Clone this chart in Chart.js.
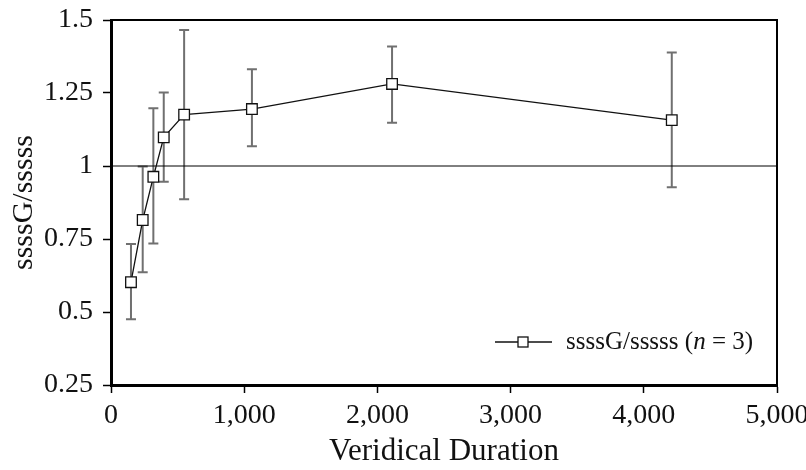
<!DOCTYPE html>
<html>
<head>
<meta charset="utf-8">
<script src="https://cdn.jsdelivr.net/npm/chart.js@4/dist/chart.umd.min.js"></script>
<style>
html,body{margin:0;padding:0;background:#fff;}
#wrap{width:806px;height:470px;position:relative;}
</style>
</head>
<body>
<div id="wrap"><canvas id="c" width="806" height="470"></canvas></div>
<script>
// ---- data ----
const durations = [150, 238, 318, 396, 549, 1058, 2110, 4210];
const ratioMeans = [0.602, 0.815, 0.963, 1.098, 1.176, 1.195, 1.281, 1.157];
const errUpper = [0.733, 0.998, 1.198, 1.252, 1.466, 1.331, 1.409, 1.389];
const errLower = [0.475, 0.636, 0.735, 0.946, 0.886, 1.068, 1.148, 0.927];
const referenceValue = 1;
const xTickLabels = ['0', '1,000', '2,000', '3,000', '4,000', '5,000'];
const yTickLabels = ['0.25', '0.5', '0.75', '1', '1.25', '1.5'];
const seriesLabel = 'ssssG/sssss';
const xTitle = 'Veridical Duration';
const yTitle = 'ssssG/sssss';

const SERIF = "'Liberation Serif', 'Times New Roman', serif";

const points = durations.map((d, i) => ({x: d, y: ratioMeans[i]}));
const refLine = [{x: 0, y: referenceValue}, {x: 5000, y: referenceValue}];

const errorBarPlugin = {
  id: 'errorBars',
  beforeDatasetsDraw(chart) {
    const {ctx, scales: {x, y}} = chart;
    ctx.save();
    ctx.strokeStyle = '#707070';
    ctx.lineWidth = 2;
    durations.forEach((d, i) => {
      const px = x.getPixelForValue(d);
      const top = y.getPixelForValue(errUpper[i]);
      const bot = y.getPixelForValue(errLower[i]);
      ctx.beginPath();
      ctx.moveTo(px, top); ctx.lineTo(px, bot);
      ctx.moveTo(px - 5, top); ctx.lineTo(px + 5, top);
      ctx.moveTo(px - 5, bot); ctx.lineTo(px + 5, bot);
      ctx.stroke();
    });
    ctx.restore();
  }
};

const framePlugin = {
  id: 'frame',
  afterDraw(chart) {
    const {ctx, chartArea: a} = chart;
    ctx.save();
    ctx.strokeStyle = '#000';
    ctx.lineWidth = 2;
    ctx.beginPath();
    ctx.moveTo(a.left, a.top); ctx.lineTo(a.right, a.top); ctx.lineTo(a.right, a.bottom);
    ctx.stroke();
    // legend inside plot area
    const ly = 342, lx0 = 495, lx1 = 552, lm = 523;
    ctx.strokeStyle = '#111';
    ctx.lineWidth = 1.3;
    ctx.beginPath(); ctx.moveTo(lx0, ly); ctx.lineTo(lx1, ly); ctx.stroke();
    ctx.fillStyle = '#fff';
    ctx.fillRect(lm - 5, ly - 5, 10, 10);
    ctx.strokeRect(lm - 5, ly - 5, 10, 10);
    ctx.fillStyle = '#111';
    ctx.textBaseline = 'middle';
    ctx.textAlign = 'left';
    let tx = 566;
    const parts = [[seriesLabel + ' (', 'normal'], ['n', 'italic'], [' = 3)', 'normal']];
    parts.forEach(([t, st]) => {
      ctx.font = st + ' 25px ' + SERIF;
      ctx.fillText(t, tx, ly);
      tx += ctx.measureText(t).width;
    });
    ctx.restore();
  }
};

new Chart(document.getElementById('c'), {
  type: 'scatter',
  data: {
    datasets: [
      {
        label: seriesLabel,
        data: points,
        showLine: true,
        borderColor: '#111',
        borderWidth: 1.3,
        pointStyle: 'rect',
        pointRadius: 7.5,
        pointBackgroundColor: '#fff',
        pointBorderColor: '#111',
        pointBorderWidth: 1.3,
        order: 1
      },
      {
        label: 'reference',
        data: refLine,
        showLine: true,
        borderColor: '#000',
        borderWidth: 1,
        pointRadius: 0,
        order: 2
      }
    ]
  },
  options: {
    responsive: false,
    animation: false,
    events: [],
    layout: {padding: {left: 0, right: 29, top: 20, bottom: 0}},
    plugins: {legend: {display: false}, tooltip: {enabled: false}},
    scales: {
      x: {
        type: 'linear', min: 0, max: 5000,
        ticks: {
          stepSize: 1000, color: '#111', padding: 6,
          font: {family: SERIF, size: 28},
          maxRotation: 0,
          callback: (v, i) => xTickLabels[i]
        },
        grid: {drawOnChartArea: false, drawTicks: true, tickLength: 8, tickColor: '#000', tickWidth: 1.5},
        border: {display: true, color: '#000', width: 3},
        title: {display: true, text: xTitle, color: '#111', font: {family: SERIF, size: 31}, padding: {top: 0, bottom: 0}},
        afterFit: (s) => { s.height = 85; s.paddingLeft = 0; s.paddingRight = 0; }
      },
      y: {
        min: 0.25, max: 1.5,
        ticks: {
          stepSize: 0.25, color: '#111', padding: 10,
          font: {family: SERIF, size: 28},
          callback: (v, i) => yTickLabels[i]
        },
        grid: {drawOnChartArea: false, drawTicks: true, tickLength: 8, tickColor: '#000', tickWidth: 1.5},
        border: {display: true, color: '#000', width: 3},
        title: {display: true, text: yTitle, color: '#111', font: {family: SERIF, size: 30}, padding: {top: 6, bottom: 0}},
        afterFit: (s) => { s.width = 111; s.paddingTop = 0; s.paddingBottom = 0; }
      }
    }
  },
  plugins: [errorBarPlugin, framePlugin]
});
</script>
</body>
</html>
